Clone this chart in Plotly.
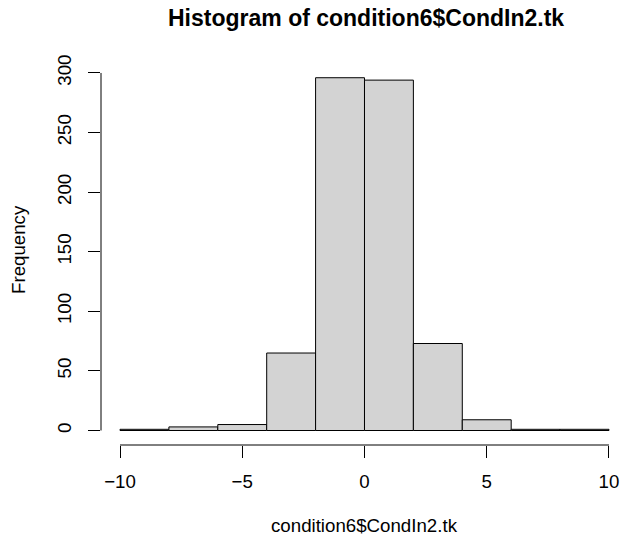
import plotly.graph_objects as go

# Histogram bins (width 2) and counts
bin_left = [-10, -8, -6, -4, -2, 0, 2, 4, 6, 8]
bin_width = 2
counts = [1, 3, 5, 65, 296, 294, 73, 9, 1, 1]

x_ticks = [-10, -5, 0, 5, 10]
y_ticks = [0, 50, 100, 150, 200, 250, 300]

title_text = "Histogram of condition6$CondIn2.tk"
x_label = "condition6$CondIn2.tk"
y_label = "Frequency"

FONT = "Liberation Sans, Arial, sans-serif"
BASE = 18.7
W, H = 624, 538
ML, MR, MT, MB = 101, 1, 62, 93

centers = [b + bin_width / 2 for b in bin_left]

fig = go.Figure(
    go.Bar(
        x=centers,
        y=counts,
        width=[bin_width] * len(counts),
        marker=dict(color="#D3D3D3", line=dict(color="black", width=1)),
        hoverinfo="x+y",
    )
)

fig.update_layout(
    width=W,
    height=H,
    margin=dict(l=ML, r=MR, t=MT, b=MB),
    plot_bgcolor="white",
    paper_bgcolor="white",
    showlegend=False,
    font=dict(family=FONT, size=BASE, color="black"),
    xaxis=dict(
        range=[-10.777, 10.573],
        tickvals=x_ticks,
        ticks="outside",
        ticklen=12,
        tickwidth=1,
        tickcolor="black",
        showgrid=False,
        zeroline=False,
        showline=False,
        tickfont=dict(size=BASE),
        ticklabelstandoff=8,
    ),
    yaxis=dict(
        range=[-12.17, 309.2],
        tickvals=y_ticks,
        ticks="outside",
        ticklen=12,
        tickwidth=1,
        tickcolor="black",
        tickangle=-90,
        showgrid=False,
        zeroline=False,
        showline=False,
        tickfont=dict(size=BASE),
        ticklabelstandoff=10,
    ),
)

# Axis lines span only the first to last tick
fig.add_shape(type="line", xref="x", yref="paper",
              x0=x_ticks[0], x1=x_ticks[-1], y0=0, y1=0,
              line=dict(color="black", width=1))
fig.add_shape(type="line", xref="paper", yref="y",
              x0=0, x1=0, y0=y_ticks[0], y1=y_ticks[-1],
              line=dict(color="black", width=1))

pw = W - ML - MR
ph = H - MT - MB

def px_x(p):
    return (p - ML) / pw

def px_y(p):
    return (H - MB - p) / ph

fig.add_annotation(text="<b>" + title_text + "</b>", xref="paper", yref="paper",
                   x=px_x(366), y=px_y(18), xanchor="center", yanchor="middle",
                   showarrow=False, font=dict(size=23, family=FONT, color="black"))
fig.add_annotation(text=x_label, xref="paper", yref="paper",
                   x=px_x(364), y=px_y(525), xanchor="center", yanchor="middle",
                   showarrow=False, font=dict(size=BASE, family=FONT, color="black"))
fig.add_annotation(text=y_label, xref="paper", yref="paper",
                   x=px_x(18), y=px_y(250), xanchor="center", yanchor="middle",
                   textangle=-90, showarrow=False,
                   font=dict(size=BASE, family=FONT, color="black"))

fig.write_html("out.html")
